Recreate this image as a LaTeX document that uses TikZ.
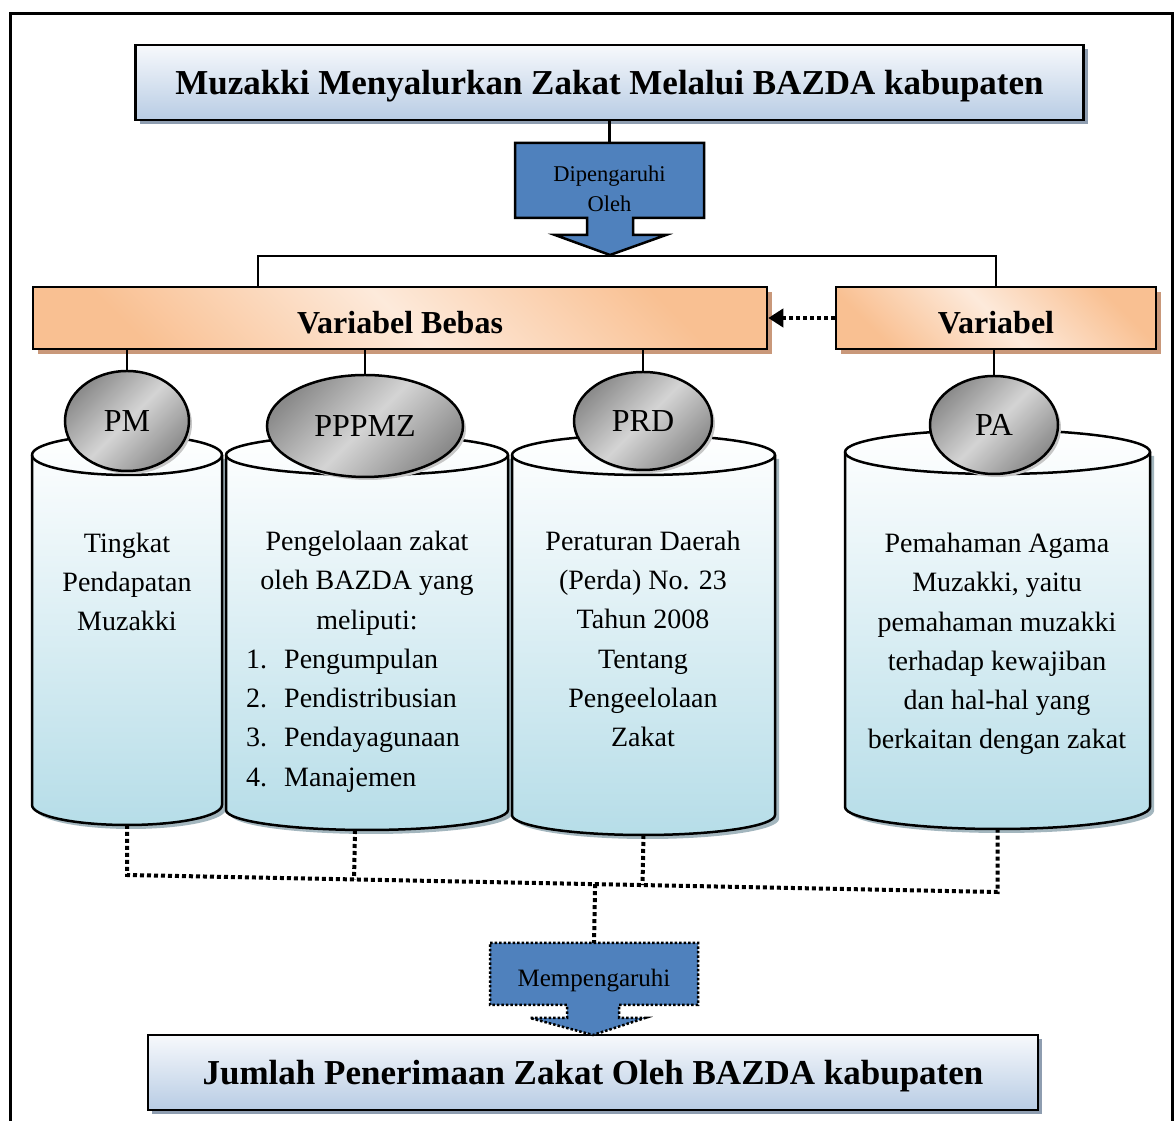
\documentclass[tikz,border=0pt]{standalone}
\usepackage{fontspec}
\setmainfont{Liberation Serif}
\usetikzlibrary{shapes.geometric,shadows,arrows.meta,calc}
\definecolor{biruA}{HTML}{F7F9FC}
\definecolor{biruB}{HTML}{B8CCE4}
\definecolor{bayangBiru}{HTML}{8E9DB0}
\definecolor{oranyeA}{HTML}{F9C092}
\definecolor{oranyeB}{HTML}{FDEADB}
\definecolor{bayangOranye}{HTML}{C9987A}
\definecolor{abuA}{HTML}{8A8A8A}
\definecolor{abuB}{HTML}{D4D4D4}
\definecolor{tabungB}{HTML}{B6DDE8}
\definecolor{bayangTabung}{HTML}{A3B6BE}
\definecolor{panahBiru}{HTML}{4F81BD}
\begin{document}
\begin{tikzpicture}[x=1pt,y=1pt,
	garis/.style={line width=2.5pt},
	titik/.style={line width=4pt,dash pattern=on 4pt off 3pt},
	kotak/.style={draw,garis,top color=biruA,bottom color=biruB,minimum height=75pt,inner sep=0pt,
		text depth=0pt,drop shadow={shadow xshift=4pt,shadow yshift=-4pt,fill=bayangBiru,opacity=1},
		font=\bfseries\fontsize{35}{42}\selectfont},
	var/.style={draw,garis,top color=oranyeA,bottom color=oranyeA,middle color=oranyeB,shading angle=-45,
		minimum height=62pt,inner sep=0pt,text height=31pt,text depth=0pt,
		drop shadow={shadow xshift=5pt,shadow yshift=-5pt,fill=bayangOranye,opacity=1},
		font=\bfseries\fontsize{32}{38}\selectfont},
	bulat/.style={ellipse,draw,garis,top color=abuA,bottom color=abuA,middle color=abuB,shading angle=45,
		inner sep=0pt,drop shadow={shadow xshift=3pt,shadow yshift=-3pt,fill=black!22,opacity=1},
		font=\fontsize{32}{38}\selectfont},
	tabung/.style={draw,garis,top color=white,bottom color=tabungB},
	teks/.style={align=center,inner sep=0pt,font=\fontsize{28}{39.3}\selectfont},
	panah/.style={draw,garis,fill=panahBiru,line join=miter}]
	\useasboundingbox (0,0) rectangle (1175,1121);
	\draw[line width=3pt] (10,-20) rectangle (1172,1107);

	\node[kotak,minimum width=948pt] (judul) at (609.5,1038.5) {Muzakki Menyalurkan Zakat Melalui BAZDA kabupaten};
	\draw[panah] (515,978) -- (704,978) -- (704,903) -- (633,903) -- (633,886) -- (666,886) -- (610,866)
		-- (555,886) -- (587,886) -- (587,903) -- (515,903) -- cycle;
	\node[align=center,font=\fontsize{22.5}{30}\selectfont,minimum width=189pt,minimum height=92pt] (dip) at (609.5,932) {Dipengaruhi\\Oleh};
	\coordinate (cabang) at (610,865);
	\draw[garis] (judul.south) -- (dip.north);

	\node[var,minimum width=734pt] (bebas) at (400,803) {Variabel Bebas};
	\node[var,minimum width=320pt] (variabel) at (996,803) {Variabel};
	\draw[garis] ([xshift=-142pt]bebas.north) |- (cabang) -| (variabel.north);
	\draw[titik,-{Triangle[length=15pt,width=18pt]}] (variabel.west) -- (bebas.east);

	\foreach \xl/\xr/\yt/\yb/\ry [count=\i] in {32/222/666/316/20,226/508/666/311/20,512/775/666/306/20,845/1150/669/314/22}{
		\pgfmathsetmacro\rx{(\xr-\xl)/2}
		\fill[bayangTabung,xshift=4pt,yshift=-4pt] (\xl,\yt) -- (\xl,\yb) arc[start angle=180,end angle=360,x radius=\rx,y radius=\ry] -- (\xr,\yt) -- cycle;
		\draw[tabung] (\xl,\yt) -- (\xl,\yb) arc[start angle=180,end angle=360,x radius=\rx,y radius=\ry]
			-- (\xr,\yt) arc[start angle=0,end angle=180,x radius=\rx,y radius=\ry] -- cycle;
		\draw[garis] (\xl,\yt) arc[start angle=180,end angle=360,x radius=\rx,y radius=\ry];
		\coordinate (bawah\i) at ({(\xl+\xr)/2},{\yb-\ry});
	}

	\node[teks] (t1) at (127,539) {Tingkat\\Pendapatan\\Muzakki};
	\node[teks] (t2) at (367,538) {Pengelolaan zakat\\oleh BAZDA yang\\meliputi:};
	\node[teks,align=left,anchor=west] (t2b) at (246,400.5) {\makebox[38pt][l]{1.}Pengumpulan\\\makebox[38pt][l]{2.}Pendistribusian\\
		\makebox[38pt][l]{3.}Pendayagunaan\\\makebox[38pt][l]{4.}Manajemen};
	\node[teks] (t3) at (643,482) {Peraturan Daerah\\(Perda) No. 23\\Tahun 2008\\Tentang\\Pengeelolaan\\Zakat};
	\node[teks] (t4) at (997,477) {Pemahaman Agama\\Muzakki, yaitu\\pemahaman muzakki\\terhadap kewajiban\\dan hal-hal yang\\berkaitan dengan zakat};

	\node[bulat,minimum width=124pt,minimum height=100pt] (pm) at (127,700) {PM};
	\node[bulat,minimum width=196pt,minimum height=102pt] (pppmz) at (365,695) {PPPMZ};
	\node[bulat,minimum width=138pt,minimum height=98pt] (prd) at (643,700) {PRD};
	\node[bulat,minimum width=128pt,minimum height=98pt] (pa) at (994,696) {PA};
	\foreach \n in {pm,pppmz,prd}
		\draw[garis] (\n.north) -- (\n.north |- bebas.south);
	\draw[garis] (pa.north) -- (pa.north |- variabel.south);

	\coordinate (g1) at (127,246);
	\coordinate (g4) at (997.5,229);
	\draw[titik] (bawah1) -- (g1) -- (g4) -- (bawah4);
	\draw[titik] ([xshift=-12pt]bawah2) -- ($(g1)!([xshift=-12pt]bawah2)!(g4)$);
	\draw[titik] (bawah3) -- ($(g1)!(bawah3)!(g4)$);

	\node[kotak,minimum width=890pt] (jumlah) at (593,48.5) {Jumlah Penerimaan Zakat Oleh BAZDA kabupaten};
	\draw[panah,dash pattern=on 2.5pt off 2pt] (490,178) -- (698,178) -- (698,116) -- (619,116) -- (619,103) -- (645,103)
		-- (593,86) -- (530,103) -- (567,103) -- (567,116) -- (490,116) -- cycle;
	\node[font=\fontsize{25}{30}\selectfont,minimum width=208pt,minimum height=76pt] (memp) at (594,140) {Mempengaruhi};
	\draw[titik] ($(g1)!(memp.north)!(g4)$) -- (memp.north);
\end{tikzpicture}
\end{document}
